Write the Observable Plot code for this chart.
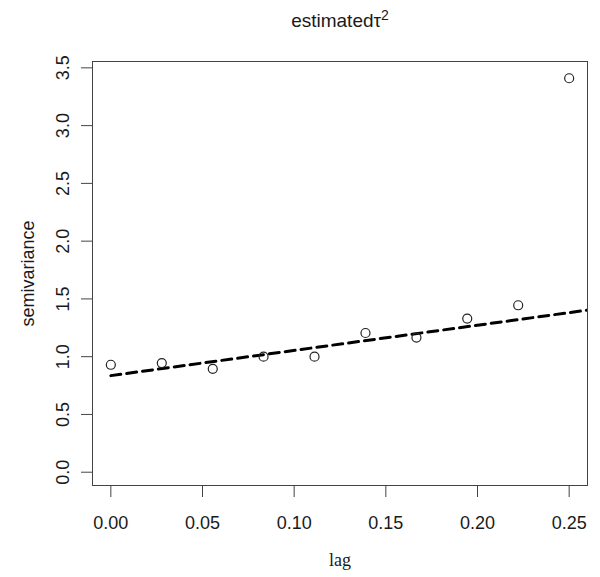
<!DOCTYPE html>
<html>
<head>
<meta charset="utf-8">
<script src="https://cdn.jsdelivr.net/npm/d3@7"></script>
<script src="https://cdn.jsdelivr.net/npm/@observablehq/plot@0.6"></script>
<style>
  html, body { margin: 0; padding: 0; background: white; }
</style>
</head>
<body>
<div id="chart"></div>
<script>
// Empirical semivariogram
const lags = [0, 0.0278, 0.0556, 0.0833, 0.1111, 0.1389, 0.1667, 0.1944, 0.2222, 0.25];
const semivariance = [0.93, 0.945, 0.895, 1.0, 1.0, 1.205, 1.165, 1.33, 1.445, 3.41];

// Fitted line (dashed)
const fitLag = [0, 0.26];
const fitValue = [0.836, 1.403];

// Tick labels
const xTicks = [0, 0.05, 0.10, 0.15, 0.20, 0.25];
const yTicks = [0, 0.5, 1.0, 1.5, 2.0, 2.5, 3.0, 3.5];

const titleText = "estimatedτ2";
const xLabel = "lag";
const yLabel = "semivariance";

const points = lags.map((l, i) => ({lag: l, v: semivariance[i]}));
const fit = fitLag.map((l, i) => ({lag: l, v: fitValue[i]}));

const ink = "#1a1a1a";

const chart = Plot.plot({
  width: 600,
  height: 577,
  marginLeft: 92,
  marginRight: 13,
  marginTop: 61,
  marginBottom: 92,
  x: {domain: [-0.01, 0.26]},
  y: {domain: [-0.115, 3.555]},
  style: {fontFamily: "'Liberation Sans', Arial, sans-serif", fontSize: "18px", color: ink, background: "white"},
  marks: [
    Plot.frame({stroke: "#444", strokeWidth: 1}),
    Plot.axisX({ticks: xTicks, tickSize: 12, tickPadding: 19, tickFormat: d => d.toFixed(2), label: null, stroke: "#444", fill: ink}),
    Plot.axisY({ticks: yTicks, tickSize: 11, tickFormat: () => "", label: null, stroke: "#444"}),
    Plot.text(yTicks, {y: d => d, text: d => d.toFixed(1), frameAnchor: "left", dx: -29, rotate: -90, textAnchor: "middle", lineAnchor: "middle", fill: ink}),
    Plot.text([yLabel], {text: d => d, frameAnchor: "left", dx: -64, rotate: -90, textAnchor: "middle", lineAnchor: "middle", fill: ink}),
    Plot.text([xLabel], {text: d => d, frameAnchor: "bottom", dy: 75, lineAnchor: "middle", fontFamily: "'Liberation Serif', 'Times New Roman', serif", fontSize: 18, fill: ink}),
    Plot.text([titleText], {text: d => d, frameAnchor: "top", dy: -41, lineAnchor: "middle", fontSize: 19, fill: ink}),
    Plot.line(fit, {x: "lag", y: "v", stroke: "black", strokeWidth: 3, strokeDasharray: "10,6", clip: true}),
    Plot.dot(points, {x: "lag", y: "v", r: 4.5, stroke: "#222", strokeWidth: 1.2, fill: "none"})
  ]
});

// Superscript the exponent in the title
d3.select(chart).selectAll("text").filter(function() { return this.textContent === titleText; })
  .each(function() {
    const t = d3.select(this);
    t.text("estimatedτ");
    t.append("tspan").attr("dy", "-0.45em").attr("font-size", "14px").text("2");
  });

document.getElementById("chart").appendChild(chart);
</script>
</body>
</html>
